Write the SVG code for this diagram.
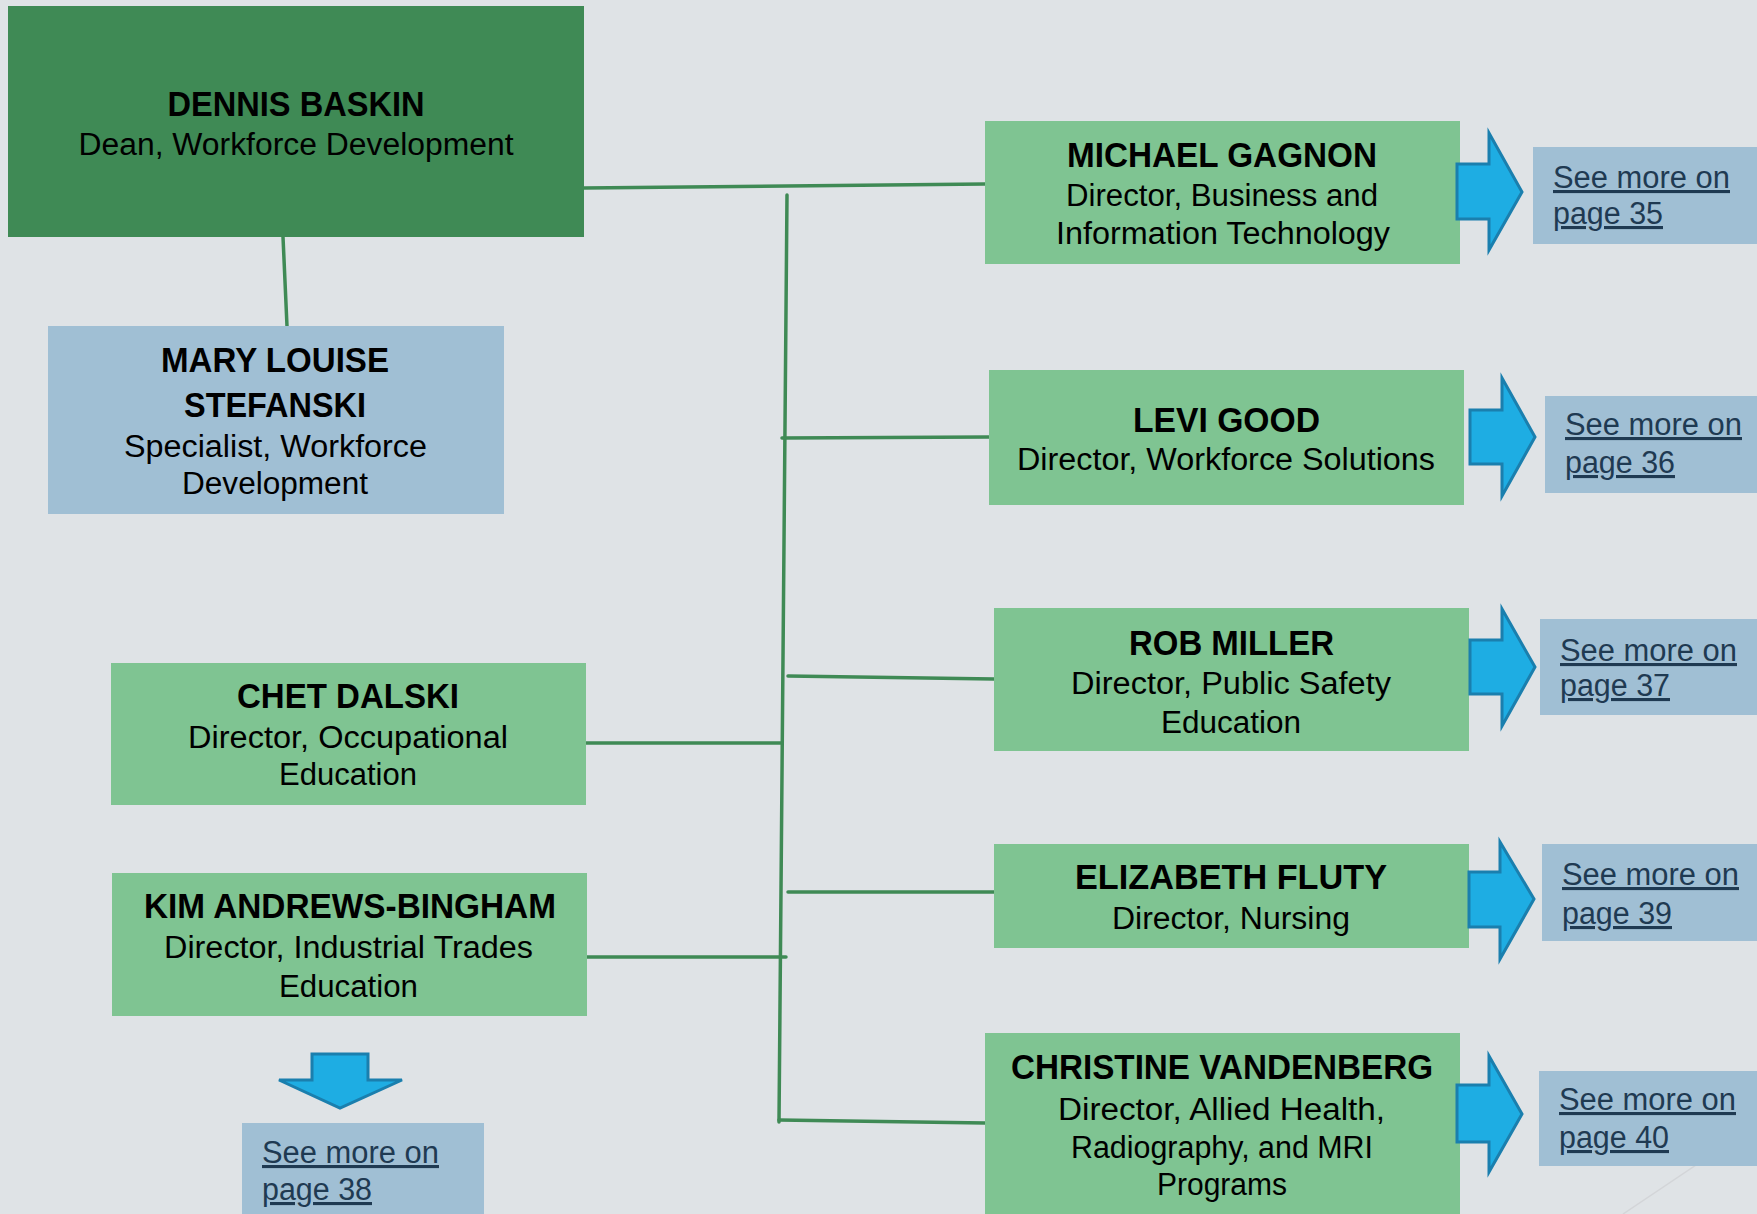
<svg xmlns="http://www.w3.org/2000/svg" width="1757" height="1214" viewBox="0 0 1757 1214">
<defs>
<style>
.bg{fill:#dfe3e6}
.dean{fill:#3f8a55}
.dir{fill:#7fc492}
.blue{fill:#a0bfd4}
.conn{stroke:#3f8a55;stroke-width:3.5;fill:none;stroke-linecap:round}
.arrow{fill:#1eade3;stroke:#1a7fae;stroke-width:3;stroke-linejoin:miter}
text{font-family:"Liberation Sans",Arial,sans-serif;fill:#000;text-anchor:middle}
.nm{font-size:35px;font-weight:bold}
.sb{font-size:31px}
.lk{font-size:31px;fill:#1f3a52;text-anchor:start;text-decoration:underline}
</style>
</defs>
<rect class="bg" x="0" y="0" width="1757" height="1214"/>
<line x1="1757" y1="1124" x2="1623" y2="1214" stroke="#d3d5d8" stroke-width="1.5"/>

<g id="connectors">
<line class="conn" x1="584" y1="188" x2="985" y2="184"/>
<line class="conn" x1="283" y1="237" x2="287" y2="326"/>
<line class="conn" x1="787" y1="195" x2="779" y2="1122"/>
<line class="conn" x1="782" y1="438" x2="989" y2="437"/>
<line class="conn" x1="788" y1="676" x2="994" y2="679"/>
<line class="conn" x1="579" y1="743" x2="782" y2="743"/>
<line class="conn" x1="788" y1="892" x2="994" y2="892"/>
<line class="conn" x1="586" y1="957" x2="786" y2="957"/>
<line class="conn" x1="779" y1="1120" x2="985" y2="1123"/>
</g>

<g id="dean">
<rect class="dean" x="8" y="6" width="576" height="231"/>
<text class="nm" x="296" y="116" textLength="257" lengthAdjust="spacingAndGlyphs">DENNIS BASKIN</text>
<text class="sb" x="296" y="155" textLength="435" lengthAdjust="spacingAndGlyphs">Dean, Workforce Development</text>
</g>

<g id="mary">
<rect class="blue" x="48" y="326" width="456" height="188"/>
<text class="nm" x="275" y="372" textLength="228" lengthAdjust="spacingAndGlyphs">MARY LOUISE</text>
<text class="nm" x="275" y="417" textLength="182" lengthAdjust="spacingAndGlyphs">STEFANSKI</text>
<text class="sb" x="275.5" y="457" textLength="303" lengthAdjust="spacingAndGlyphs">Specialist, Workforce</text>
<text class="sb" x="275" y="494" textLength="186" lengthAdjust="spacingAndGlyphs">Development</text>
</g>

<g id="michael">
<rect class="dir" x="985" y="121" width="475" height="143"/>
<text class="nm" x="1222" y="167" textLength="310" lengthAdjust="spacingAndGlyphs">MICHAEL GAGNON</text>
<text class="sb" x="1222" y="206" textLength="312" lengthAdjust="spacingAndGlyphs">Director, Business and</text>
<text class="sb" x="1223" y="244" textLength="334" lengthAdjust="spacingAndGlyphs">Information Technology</text>
</g>

<g id="levi">
<rect class="dir" x="989" y="370" width="475" height="135"/>
<text class="nm" x="1226.5" y="432" textLength="187" lengthAdjust="spacingAndGlyphs">LEVI GOOD</text>
<text class="sb" x="1226" y="470" textLength="418" lengthAdjust="spacingAndGlyphs">Director, Workforce Solutions</text>
</g>

<g id="rob">
<rect class="dir" x="994" y="608" width="475" height="143"/>
<text class="nm" x="1231.5" y="655" textLength="205" lengthAdjust="spacingAndGlyphs">ROB MILLER</text>
<text class="sb" x="1231" y="694" textLength="320" lengthAdjust="spacingAndGlyphs">Director, Public Safety</text>
<text class="sb" x="1231" y="733" textLength="140" lengthAdjust="spacingAndGlyphs">Education</text>
</g>

<g id="elizabeth">
<rect class="dir" x="994" y="844" width="475" height="104"/>
<text class="nm" x="1231" y="889" textLength="312" lengthAdjust="spacingAndGlyphs">ELIZABETH FLUTY</text>
<text class="sb" x="1231" y="929" textLength="238" lengthAdjust="spacingAndGlyphs">Director, Nursing</text>
</g>

<g id="christine">
<rect class="dir" x="985" y="1033" width="475" height="190"/>
<text class="nm" x="1222" y="1079" textLength="422" lengthAdjust="spacingAndGlyphs">CHRISTINE VANDENBERG</text>
<text class="sb" x="1221.5" y="1120" textLength="327" lengthAdjust="spacingAndGlyphs">Director, Allied Health,</text>
<text class="sb" x="1222" y="1158" textLength="302" lengthAdjust="spacingAndGlyphs">Radiography, and MRI</text>
<text class="sb" x="1222" y="1195" textLength="130" lengthAdjust="spacingAndGlyphs">Programs</text>
</g>

<g id="chet">
<rect class="dir" x="111" y="663" width="475" height="142"/>
<text class="nm" x="348" y="708" textLength="222" lengthAdjust="spacingAndGlyphs">CHET DALSKI</text>
<text class="sb" x="348" y="748" textLength="320" lengthAdjust="spacingAndGlyphs">Director, Occupational</text>
<text class="sb" x="348" y="785" textLength="138" lengthAdjust="spacingAndGlyphs">Education</text>
</g>

<g id="kim">
<rect class="dir" x="112" y="873" width="475" height="143"/>
<text class="nm" x="350" y="918" textLength="412" lengthAdjust="spacingAndGlyphs">KIM ANDREWS-BINGHAM</text>
<text class="sb" x="348.5" y="958" textLength="369" lengthAdjust="spacingAndGlyphs">Director, Industrial Trades</text>
<text class="sb" x="348.5" y="997" textLength="139" lengthAdjust="spacingAndGlyphs">Education</text>
</g>

<g id="arrow-35"><path class="arrow" d="M1457,164 H1489 V133 L1522,192 L1489,250 V219 H1457 Z"/></g>
<g id="arrow-36"><path class="arrow" d="M1470,410 H1502 V378 L1535,437 L1502,496 V464 H1470 Z"/></g>
<g id="arrow-37"><path class="arrow" d="M1470,640 H1502 V609 L1535,667 L1502,726 V694 H1470 Z"/></g>
<g id="arrow-39"><path class="arrow" d="M1469,872 H1500 V842 L1534,899 L1500,959 V927 H1469 Z"/></g>
<g id="arrow-40"><path class="arrow" d="M1457,1085 H1489 V1056 L1522,1114 L1489,1172 V1142 H1457 Z"/></g>
<g id="arrow-38"><path class="arrow" d="M312,1054 H368 V1080 H402 L340,1108 L279,1080 H312 Z"/></g>

<g id="link-35">
<rect class="blue" x="1533" y="147" width="230" height="97"/>
<text class="lk" x="1553" y="188" textLength="177" lengthAdjust="spacingAndGlyphs">See more on</text>
<text class="lk" x="1553" y="224" textLength="110" lengthAdjust="spacingAndGlyphs">page 35</text>
</g>
<g id="link-36">
<rect class="blue" x="1545" y="396" width="220" height="97"/>
<text class="lk" x="1565" y="435" textLength="177" lengthAdjust="spacingAndGlyphs">See more on</text>
<text class="lk" x="1565" y="473" textLength="110" lengthAdjust="spacingAndGlyphs">page 36</text>
</g>
<g id="link-37">
<rect class="blue" x="1540" y="619" width="220" height="96"/>
<text class="lk" x="1560" y="661" textLength="177" lengthAdjust="spacingAndGlyphs">See more on</text>
<text class="lk" x="1560" y="696" textLength="110" lengthAdjust="spacingAndGlyphs">page 37</text>
</g>
<g id="link-39">
<rect class="blue" x="1542" y="844" width="220" height="97"/>
<text class="lk" x="1562" y="885" textLength="177" lengthAdjust="spacingAndGlyphs">See more on</text>
<text class="lk" x="1562" y="924" textLength="110" lengthAdjust="spacingAndGlyphs">page 39</text>
</g>
<g id="link-40">
<rect class="blue" x="1539" y="1071" width="220" height="95"/>
<text class="lk" x="1559" y="1110" textLength="177" lengthAdjust="spacingAndGlyphs">See more on</text>
<text class="lk" x="1559" y="1148" textLength="110" lengthAdjust="spacingAndGlyphs">page 40</text>
</g>
<g id="link-38">
<rect class="blue" x="242" y="1123" width="242" height="100"/>
<text class="lk" x="262" y="1163" textLength="177" lengthAdjust="spacingAndGlyphs">See more on</text>
<text class="lk" x="262" y="1200" textLength="110" lengthAdjust="spacingAndGlyphs">page 38</text>
</g>
</svg>
